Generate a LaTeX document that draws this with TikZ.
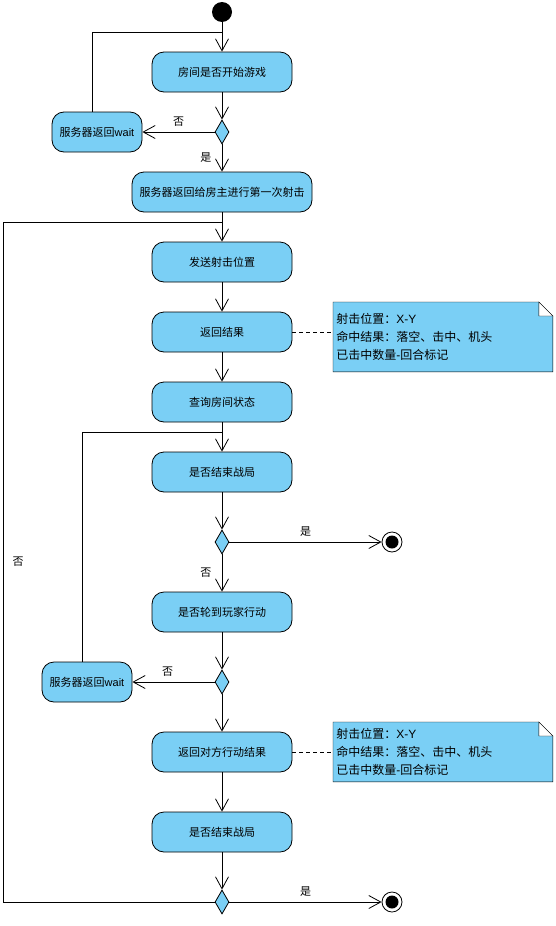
\documentclass[tikz,border=0pt]{standalone}
\usepackage{fontspec}
\setmainfont{Liberation Sans}
\newfontfamily\cjk{Noto Sans CJK SC}
\newfontfamily\latin{Liberation Sans}
\usetikzlibrary{arrows.meta,shapes.geometric,backgrounds}
\definecolor{actblue}{RGB}{122,207,245}

\begin{document}
\begin{tikzpicture}[
    x=1pt, y=-1pt,
    line width=0.8pt,
    font=\cjk\fontsize{11}{13}\selectfont,
    action/.style={draw, fill=actblue, rounded corners=12pt,
        minimum width=140pt, minimum height=40pt, inner sep=2pt},
    decision/.style={diamond, draw, fill=actblue,
        minimum width=14pt, minimum height=24pt, inner sep=0pt},
    note/.style={anchor=north west, minimum width=219pt, text width=213pt,
        align=left, inner xsep=3pt, font=\cjk\fontsize{12}{18}\selectfont},
    startdot/.style={circle, fill=black, minimum size=20pt, inner sep=0pt},
    enddot/.style={circle, draw, fill=white, minimum size=20pt, inner sep=0pt,
        path picture={\fill[black] (path picture bounding box.center) circle (6.5pt);}},
    arr/.style={-{Straight Barb[length=12pt,width=13pt]}},
]
  \useasboundingbox (0,0) rectangle (556,926);

  % 主流程
  \node[startdot] (start) at (222,12) {};
  \node[action] (qStart) at (222,72) {房间是否开始游戏};
  \node[decision] (dec1) at (222,132) {};
  \node[action, minimum width=90pt] (wait1) at (97,132) {服务器返回{\latin wait}};
  \node[action, minimum width=180pt] (first) at (222,192) {服务器返回给房主进行第一次射击};
  \node[action] (send) at (222,262) {发送射击位置};
  \node[action] (result) at (222,332) {返回结果};
  \node[action] (query) at (222,402) {查询房间状态};
  \node[action] (endQ1) at (222,472) {是否结束战局};
  \node[decision] (dec2) at (222,542) {};
  \node[enddot] (end1) at (392,542) {};
  \node[action] (turn) at (222,612) {是否轮到玩家行动};
  \node[decision] (dec3) at (222,682) {};
  \node[action, minimum width=90pt] (wait2) at (87,682) {服务器返回{\latin wait}};
  \node[action] (oppResult) at (222,752) {返回对方行动结果};
  \node[action] (endQ2) at (222,832) {是否结束战局};
  \node[decision] (dec4) at (222,902) {};
  \node[enddot] (end2) at (392,902) {};

  % 注释
  \node[note, minimum height=69pt] (note1) at (333,302)
    {射击位置：{\latin X-Y}\\命中结果：落空、击中、机头\\已击中数量{\latin -}回合标记};
  \node[note, minimum height=59pt] (note2) at (333,722)
    {射击位置：{\latin X-Y}\\命中结果：落空、击中、机头\\已击中数量{\latin -}回合标记};
  \begin{scope}[on background layer]
    \foreach \n in {note1,note2} {
      \filldraw[fill=actblue] (\n.south west) -- (\n.north west)
        -- ([xshift=-14pt]\n.north east) -- ([yshift=-14pt]\n.north east)
        -- (\n.south east) -- cycle;
      \filldraw[fill=white] ([xshift=-14pt]\n.north east)
        -- ([xshift=-14pt,yshift=-14pt]\n.north east)
        -- ([yshift=-14pt]\n.north east) -- cycle;
    }
  \end{scope}

  \coordinate (join1) at (222,32);
  \coordinate (join2) at (222,222);
  \coordinate (join3) at (222,432);
  \coordinate (backL) at (3,222);

  \draw[arr] (start) -- (qStart);
  \draw[arr] (qStart) -- (dec1);
  \draw[arr] (dec1) -- node[above=2pt] {否} (wait1);
  \draw ([xshift=-5pt]wait1.north) |- (join1);
  \draw[arr] (dec1) -- node[left=7pt] {是} (first);
  \draw[arr] (first) -- (send);
  \draw[arr] (send) -- (result);
  \draw[arr] (result) -- (query);
  \draw[arr] (query) -- (endQ1);
  \draw[arr] (endQ1) -- (dec2);
  \draw[arr] (dec2) -- node[above=2pt] {是} (end1);
  \draw[arr] (dec2) -- node[left=7pt] {否} (turn);
  \draw[arr] (turn) -- (dec3);
  \draw[arr] (dec3) -- node[pos=0.57, above=2pt] {否} (wait2);
  \draw ([xshift=-5pt]wait2.north) |- (join3);
  \draw[arr] (dec3) -- (oppResult);
  \draw[arr] (oppResult) -- (endQ2);
  \draw[arr] (endQ2) -- (dec4);
  \draw[arr] (dec4) -- node[above=2pt] {是} (end2);
  \draw (dec4) -| node[pos=0.75, right=6pt] {否} (backL) -- (join2);

  \draw[dashed, dash pattern=on 4pt off 3pt] (result.east) -- (result.east -| note1.west);
  \draw[dashed, dash pattern=on 4pt off 3pt] (oppResult.east) -- (oppResult.east -| note2.west);

\end{tikzpicture}
\end{document}
